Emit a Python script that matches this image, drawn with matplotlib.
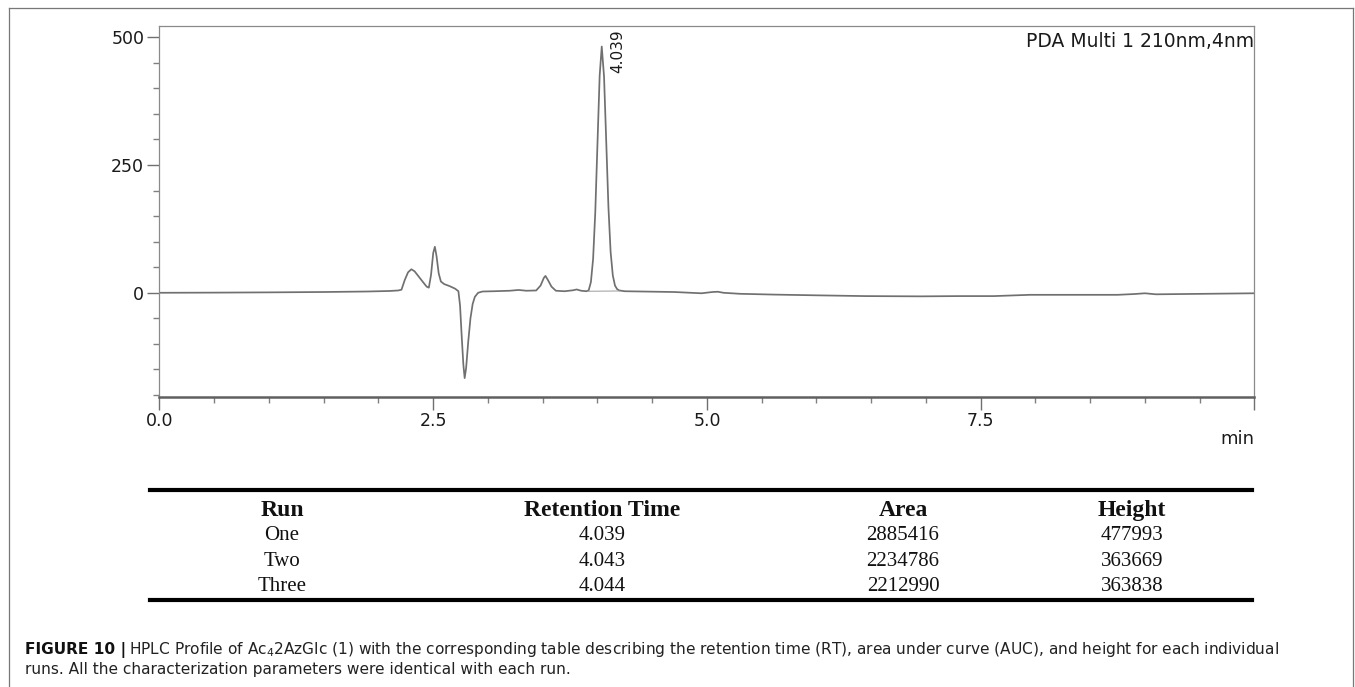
import matplotlib
matplotlib.use("Agg")
import matplotlib.pyplot as plt
from matplotlib.lines import Line2D
from matplotlib.ticker import MultipleLocator

plt.rcParams['font.family'] = ['DejaVu Sans']
plt.rcParams['mathtext.fontset'] = 'dejavusans'

# chromatogram trace (min, mAU)
time = [0.00, 0.50, 1.00, 1.50, 1.90, 2.10, 2.18, 2.21, 2.24, 2.27, 2.30, 2.33,
        2.37, 2.41, 2.44, 2.46, 2.48, 2.50, 2.515, 2.53, 2.55, 2.57, 2.60, 2.65,
        2.70, 2.73, 2.745, 2.76, 2.775, 2.787, 2.80, 2.82, 2.84, 2.86, 2.88, 2.91,
        2.95, 3.05, 3.20, 3.28, 3.35, 3.44, 3.48, 3.51, 3.525, 3.55, 3.58, 3.62,
        3.70, 3.78, 3.81, 3.85, 3.90, 3.92, 3.94, 3.96, 3.98, 4.00, 4.02, 4.039,
        4.06, 4.08, 4.10, 4.12, 4.14, 4.16, 4.18, 4.20, 4.25, 4.40, 4.70, 4.95,
        5.05, 5.10, 5.15, 5.30, 5.60, 6.00, 6.45, 6.95, 7.30, 7.62, 7.95, 8.40,
        8.75, 8.90, 9.00, 9.10, 9.55, 10.0]
signal = [0.0, 0.3, 0.8, 1.5, 2.5, 3.5, 4.5, 6, 25, 40, 46, 42,
          31, 20, 12, 10, 35, 78, 90, 72, 38, 22, 17, 13,
          8, 3, -25, -85, -140, -167, -148, -95, -50, -22, -8, 0,
          2.5, 3, 4, 5.5, 4, 4.5, 14, 29, 33, 24, 12, 4,
          3, 5, 6.5, 4, 3, 5, 21, 66, 158, 292, 425, 482,
          423, 296, 168, 80, 34, 14, 7, 4.5, 3, 2.5, 1.5, -1,
          1.5, 2, 0, -2, -3.5, -5, -6.5, -7, -6.5, -6.5, -4, -4,
          -4, -2.5, -1, -3, -2, -1]

# integration baseline under the main peak
base_time = [3.91, 4.20]
base_signal = [3, 3.5]

peak_rt = 4.039
peak_label = "4.039"
detector = "PDA Multi 1 210nm,4nm"

# table
col_names = ["Run", "Retention Time", "Area", "Height"]
runs = ["One", "Two", "Three"]
ret_times = ["4.039", "4.043", "4.044"]
areas = ["2885416", "2234786", "2212990"]
heights = ["477993", "363669", "363838"]

fig = plt.figure(figsize=(13.55, 6.87), dpi=100)
ax = fig.add_axes([0.1177, 0.4221, 0.8081, 0.540])

ax.plot(time, signal, color='#707070', lw=1.25)
ax.plot(base_time, base_signal, color='#9a9a9a', lw=0.7)

ax.set_xlim(0, 10)
ax.set_ylim(-204, 522)
ax.set_xticks([0, 2.5, 5.0, 7.5, 10.0])
ax.set_xticklabels(["0.0", "2.5", "5.0", "7.5", ""])
ax.xaxis.set_minor_locator(MultipleLocator(0.5))
ax.set_yticks([0, 250, 500])
ax.yaxis.set_minor_locator(MultipleLocator(50))

ax.tick_params(axis='both', which='major', labelsize=12.5, labelcolor='#1a1a1a',
               color='#707070', width=1)
ax.tick_params(axis='x', which='major', length=9, pad=2)
ax.tick_params(axis='y', which='major', length=9, pad=2)
ax.tick_params(axis='both', which='minor', length=4.5, color='#808080', width=1)

for s in ['top', 'right', 'left']:
    ax.spines[s].set_color('#8a8a8a')
    ax.spines[s].set_linewidth(0.9)
ax.spines['bottom'].set_color('#606060')
ax.spines['bottom'].set_linewidth(1.8)

ax.text(1.0, 0.985, detector, transform=ax.transAxes, ha='right', va='top',
        fontsize=13.5, color='#1a1a1a')
ax.text(1.0, -0.09, "min", transform=ax.transAxes, ha='right', va='top',
        fontsize=13, color='#1a1a1a')

peak_h = max(signal)
ax.annotate(peak_label, xy=(peak_rt, peak_h), xytext=(16, -27),
            textcoords='offset pixels', rotation=90, ha='center', va='bottom',
            fontsize=11, color='#1a1a1a')

# table under the chart
tx0, tx1 = 0.1107, 0.9240
fig.add_artist(Line2D([tx0, tx1], [0.2868, 0.2868], color='black', lw=3))
fig.add_artist(Line2D([tx0, tx1], [0.1266, 0.1266], color='black', lw=3))
col_x = [0.2081, 0.4443, 0.6664, 0.8354]
for x, name in zip(col_x, col_names):
    fig.text(x, 0.2576, name, ha='center', va='center', fontsize=17,
             fontweight='bold', family='Liberation Serif', color='#111111')
row_y = [0.2202, 0.1834, 0.1460]
for i, y in enumerate(row_y):
    vals = [runs[i], ret_times[i], areas[i], heights[i]]
    for x, v in zip(col_x, vals):
        fig.text(x, y, v, ha='center', va='center', fontsize=15,
                 family='Liberation Serif', color='#111111')

# caption
cap_x = 0.0185
bold = fig.text(cap_x, 0.048, "FIGURE 10 |", fontsize=11.1, fontweight='bold',
                color='#111111', va='baseline')
r = fig.canvas.get_renderer()
bb = bold.get_window_extent(r)
fig.text(bb.x1 / fig.bbox.width + 0.002, 0.048,
         "HPLC Profile of Ac$_4$2AzGlc (1) with the corresponding table describing the "
         "retention time (RT), area under curve (AUC), and height for each individual",
         fontsize=11.1, color='#222222', va='baseline')
fig.text(cap_x, 0.0196, "runs. All the characterization parameters were identical with each run.",
         fontsize=11.1, color='#222222', va='baseline')

# outer frame
fw, fh = 1355, 687
fcol = '#777777'
fig.add_artist(Line2D([9 / fw, 9 / fw], [0, 1 - 8 / fh], color=fcol, lw=0.9))
fig.add_artist(Line2D([9 / fw, 1353 / fw], [1 - 8 / fh, 1 - 8 / fh], color=fcol, lw=0.9))
fig.add_artist(Line2D([1353 / fw, 1353 / fw], [0, 1 - 8 / fh], color=fcol, lw=0.9))

fig.savefig("out.png", dpi=100)
